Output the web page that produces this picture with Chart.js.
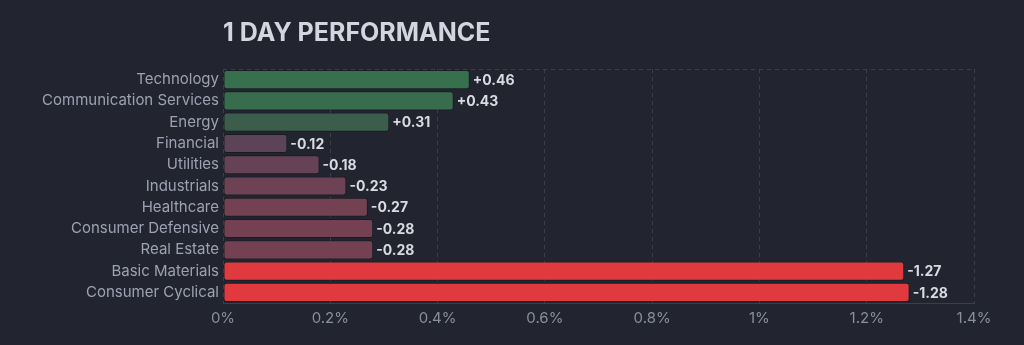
<!DOCTYPE html>
<html>
<head>
<meta charset="utf-8">
<script src="https://cdn.jsdelivr.net/npm/chart.js@4/dist/chart.umd.min.js"></script>
<style>
  html, body { margin: 0; padding: 0; background: #22252f; }
  #wrap { width: 1024px; height: 345px; }
</style>
</head>
<body>
<div id="wrap"><canvas id="perf"></canvas></div>
<script>
// sectors and their one-day change in percent
const sectors = [
    'Technology', 'Communication Services', 'Energy', 'Financial', 'Utilities',
    'Industrials', 'Healthcare', 'Consumer Defensive', 'Real Estate',
    'Basic Materials', 'Consumer Cyclical'
];
const changes = [0.46, 0.43, 0.31, -0.12, -0.18, -0.23, -0.27, -0.28, -0.28, -1.27, -1.28];
const xTicks = [0, 0.2, 0.4, 0.6, 0.8, 1, 1.2, 1.4];

const GRID = '#3b3f4c';
const LABEL = '#9da1b2';

function mix(a, b, t) {
    const c = a.map((v, i) => Math.round(v + (b[i] - v) * t));
    return 'rgb(' + c.join(',') + ')';
}

// bar colour follows the size of the move: greener up, redder down
function barColor(v) {
    const t = Math.min(Math.abs(v), 1);
    if (v >= 0) return mix([64, 57, 74], [44, 177, 78], t);
    return mix([74, 68, 90], [224, 58, 62], t);
}

// signed value labels at the end of each bar, plus the dashed top frame line
const valueLabels = {
    id: 'valueLabels',
    beforeDatasetsDraw(chart) {
        const { ctx, chartArea } = chart;
        ctx.save();
        ctx.strokeStyle = GRID;
        ctx.lineWidth = 1;
        ctx.setLineDash([4, 4]);
        ctx.beginPath();
        ctx.moveTo(chartArea.left, chartArea.top + 0.5);
        ctx.lineTo(chartArea.right, chartArea.top + 0.5);
        ctx.stroke();
        ctx.restore();
    },
    afterDatasetsDraw(chart) {
        const { ctx } = chart;
        const meta = chart.getDatasetMeta(0);
        ctx.save();
        ctx.font = 'bold 14px Inter';
        ctx.fillStyle = '#d9dbe2';
        ctx.textBaseline = 'middle';
        ctx.textAlign = 'left';
        meta.data.forEach((bar, i) => {
            const v = changes[i];
            const txt = (v > 0 ? '+' : '') + v.toFixed(2);
            ctx.fillText(txt, bar.x + 3, bar.y + 1);
        });
        ctx.restore();
    }
};

new Chart(document.getElementById('perf'), {
    type: 'bar',
    data: {
        labels: sectors,
        datasets: [{
            data: changes.map(v => Math.abs(v)),
            backgroundColor: changes.map(barColor),
            borderColor: 'rgba(0,0,0,0.25)',
            borderWidth: 1,
            borderSkipped: false,
            borderRadius: 3,
            barPercentage: 0.9,
            categoryPercentage: 1,
        }]
    },
    options: {
        indexAxis: 'y',
        responsive: true,
        maintainAspectRatio: false,
        animation: false,
        layout: { padding: { left: 0, right: 50, top: 0, bottom: 12 } },
        plugins: {
            legend: { display: false },
            tooltip: { enabled: false },
            title: {
                display: true,
                text: '1 DAY PERFORMANCE',
                align: 'start',
                fullSize: false,
                color: '#d3d6de',
                font: { family: 'Inter', size: 25, weight: 'bold' },
                padding: { top: 18, bottom: 21 }
            }
        },
        scales: {
            x: {
                min: 0,
                max: 1.4,
                afterBuildTicks(scale) {
                    scale.ticks = xTicks.map(v => ({ value: v }));
                },
                ticks: {
                    color: '#8a8fa0',
                    font: { family: 'Inter', size: 15 },
                    padding: 6,
                    callback: v => v + '%'
                },
                grid: { color: GRID, drawTicks: false, tickLength: 0 },
                border: { display: true, color: GRID, dash: [4, 4] }
            },
            y: {
                afterFit(scale) { scale.width = 223; },
                ticks: {
                    color: LABEL,
                    font: { family: 'Inter', size: 15 },
                    padding: 4
                },
                grid: { display: false, drawTicks: false, tickLength: 0 },
                border: { display: false }
            }
        }
    },
    plugins: [valueLabels]
});
</script>
</body>
</html>
